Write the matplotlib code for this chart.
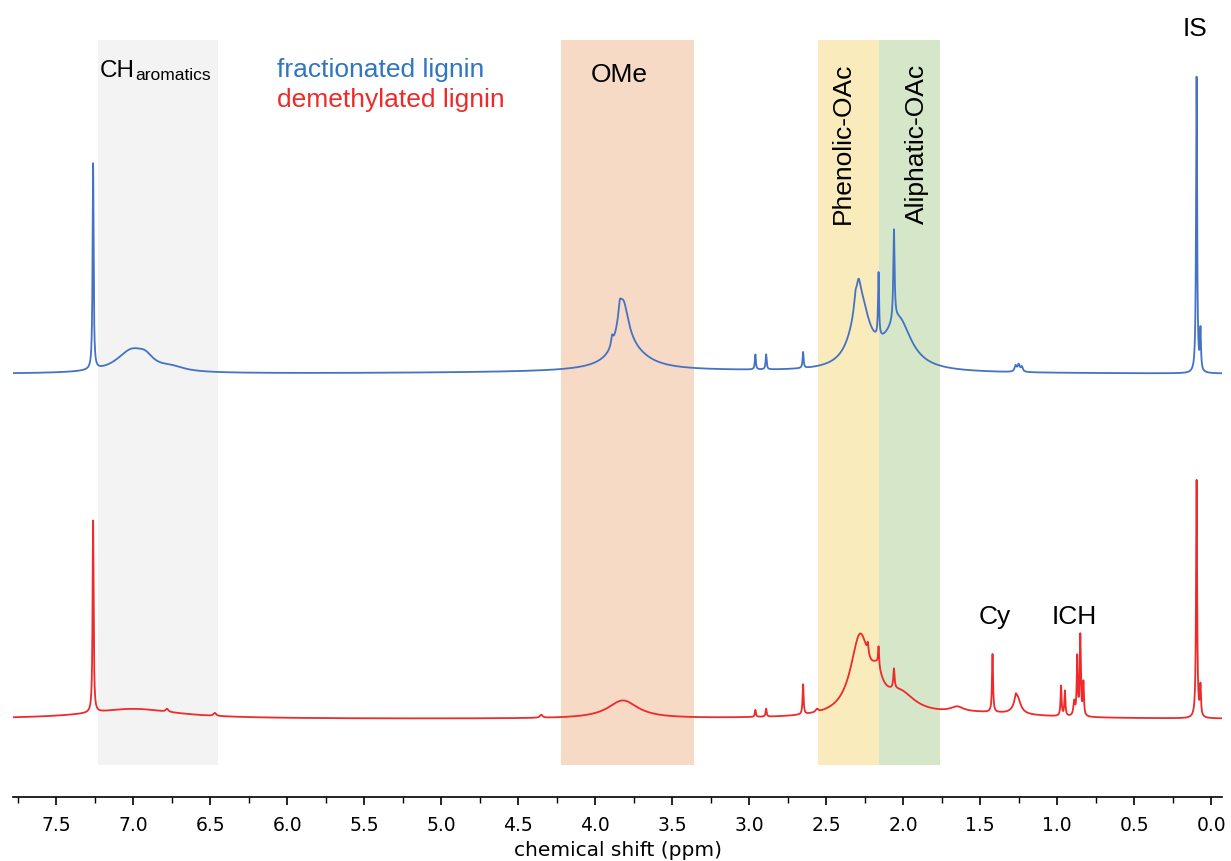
import numpy as np
import matplotlib
matplotlib.use("Agg")
import matplotlib.pyplot as plt

# peak tables: position (ppm), height (a.u.), half width (ppm)
blue_pos = [7.26, 7.01, 6.92, 6.75, 3.82, 3.78, 3.84, 3.89, 2.96, 2.89, 2.65,
            2.28, 2.29, 2.31, 2.16, 2.03, 2.06, 1.27, 1.25, 1.23, 0.095, 0.07, 3.5]
blue_h = [206, 22, 8, 4, 52, 18, 12, 9, 15, 15, 16,
          68, 18, 12, 64, 50, 91, 6, 7, 5, 296, 40, 3]
blue_w = [0.004, 0.12, 0.06, 0.1, 0.045, 0.15, 0.01, 0.008, 0.004, 0.004, 0.004,
          0.07, 0.015, 0.01, 0.004, 0.1, 0.005, 0.008, 0.008, 0.008, 0.004, 0.004, 1.2]

red_pos = [7.26, 7.00, 6.78, 6.47, 4.35, 3.82, 2.96, 2.89, 2.65, 2.56,
           2.28, 2.17, 2.02, 2.23, 2.16, 2.06, 1.65, 1.50, 1.42, 1.26, 1.27,
           0.975, 0.95, 0.89, 0.87, 0.85, 0.83, 0.095, 0.07]
red_h = [192, 10, 3, 3, 3, 18, 7, 8, 30, 3,
         78, 22, 20, 10, 20, 20, 5, 5, 58, 18, 5,
         30, 25, 14, 58, 80, 33, 238, 30]
red_w = [0.004, 0.35, 0.01, 0.01, 0.01, 0.12, 0.004, 0.004, 0.004, 0.01,
         0.075, 0.04, 0.12, 0.005, 0.004, 0.005, 0.05, 0.4, 0.004, 0.025, 0.006,
         0.004, 0.004, 0.006, 0.004, 0.004, 0.004, 0.004, 0.004]

blue_offset = 423
red_offset = 78

# shaded regions (ppm)
bands = [(7.23, 6.45, '#f3f3f3'), (4.22, 3.36, '#f6dac6'),
         (2.55, 2.16, '#f9ebbb'), (2.16, 1.76, '#d5e6c9')]

ppm = np.linspace(7.78, -0.07, 30000)


def spectrum(pos, h, w):
    y = np.zeros_like(ppm)
    for p, a, b in zip(pos, h, w):
        y += a / (1 + ((ppm - p) / b) ** 2)
    return y


fig = plt.figure(figsize=(12.31, 8.62), dpi=100)
ax = fig.add_axes([13 / 1231, 64 / 862, 1209 / 1231, 798 / 862])

for x1, x2, c in bands:
    ax.axvspan(x1, x2, ymin=0.04, ymax=0.949, color=c, lw=0, zorder=0)

ax.plot(ppm, spectrum(blue_pos, blue_h, blue_w) + blue_offset, color='#4472c4', lw=1.3)
ax.plot(ppm, spectrum(red_pos, red_h, red_w) + red_offset, color='#ee2a2a', lw=1.3)

ax.set_xlim(7.78, -0.07)
ax.set_ylim(0, 798)
for s in ['top', 'left', 'right']:
    ax.spines[s].set_visible(False)
ax.spines['bottom'].set_linewidth(1.2)
ax.set_yticks([])
ax.set_xticks(np.arange(0, 7.51, 0.5))
ax.set_xticks(np.arange(0, 7.76, 0.25), minor=True)
ax.set_xticklabels(['%.1f' % v for v in np.arange(0, 7.51, 0.5)], fontsize=13.5, family='DejaVu Sans')
ax.tick_params(axis='x', which='major', length=6, width=1.2, pad=7)
ax.tick_params(axis='x', which='minor', length=4, width=1.0)
ax.set_xlabel('chemical shift (ppm)', fontsize=14.5, family='DejaVu Sans', labelpad=4)


def px(x, y):
    return 7.78 - (x - 13) / 154, 798 - y


af = 'Liberation Sans'
fs = 19
t = ax.text(*px(100, 77), 'CH', fontsize=17.5, family=af, va='baseline', ha='left')
ax.annotate('aromatics', xy=(1, 0), xycoords=t, fontsize=12.5, family=af, va='bottom', ha='left',
            xytext=(0, -1), textcoords='offset points')
ax.text(*px(277, 77), 'fractionated lignin', fontsize=fs, family=af, color='#2e75c2', va='baseline')
ax.text(*px(277, 107), 'demethylated lignin', fontsize=fs, family=af, color='#ee2a2a', va='baseline')
ax.text(*px(619, 75), 'OMe', fontsize=fs, family=af, ha='center', va='center')
ax.text(*px(843, 224), 'Phenolic-OAc', fontsize=fs, family=af, rotation=90, ha='center', va='bottom')
ax.text(*px(917, 224), 'Aliphatic-OAc', fontsize=fs, family=af, rotation=90, ha='center', va='bottom')
ax.text(*px(995, 617), 'Cy', fontsize=fs, family=af, ha='center', va='center')
ax.text(*px(1074, 617), 'ICH', fontsize=fs, family=af, ha='center', va='center')
ax.text(*px(1195, 29), 'IS', fontsize=fs, family=af, ha='center', va='center')

fig.savefig('out.png', dpi=100)
